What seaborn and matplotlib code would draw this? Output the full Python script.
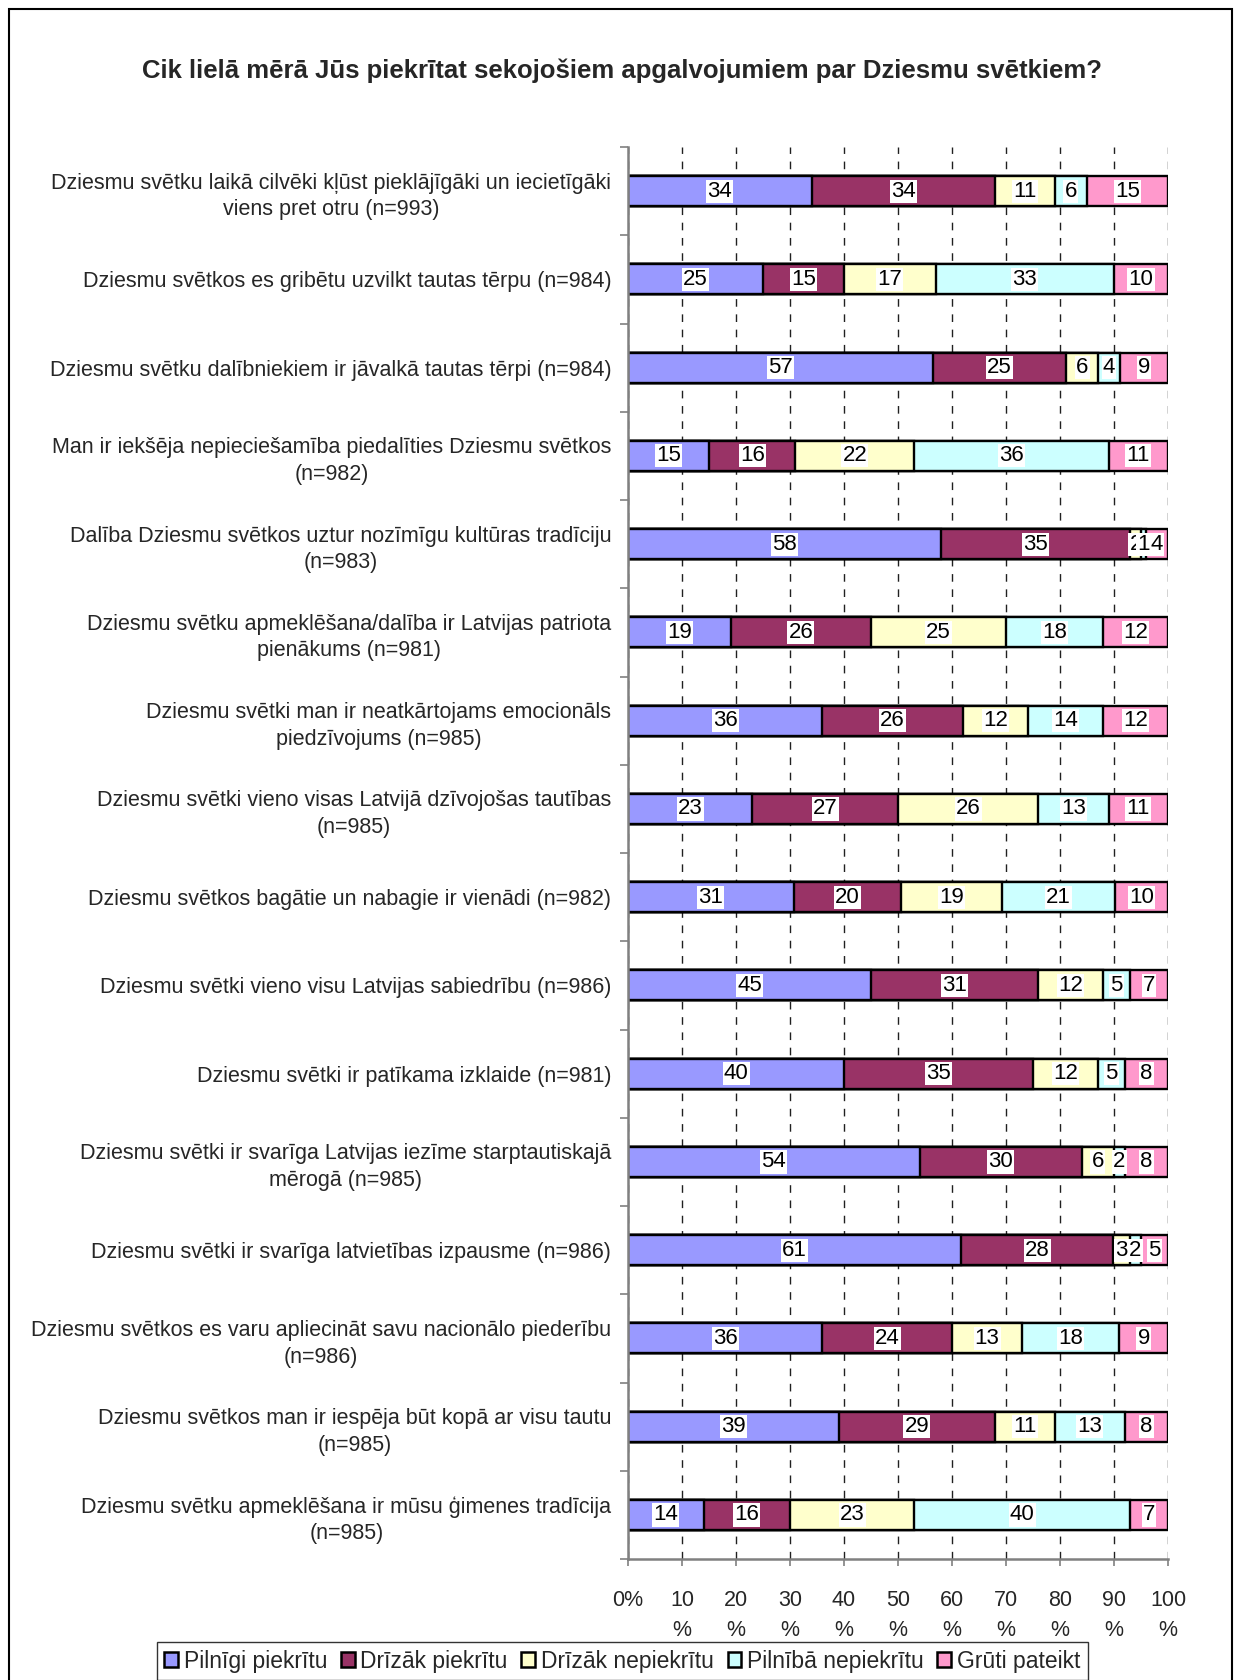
import matplotlib
matplotlib.use("Agg")
import matplotlib.font_manager as fm
import matplotlib.pyplot as plt
import numpy as np
import pandas as pd
import seaborn as sns
from matplotlib.patches import Patch, Rectangle

sns.set_theme(style="white")


def has_font(name):
    try:
        fm.findfont(fm.FontProperties(family=name), fallback_to_default=False)
        return True
    except ValueError:
        return False


NARROW = has_font("Liberation Sans Narrow")
if NARROW:
    plt.rcParams["font.family"] = ["Liberation Sans Narrow", "DejaVu Sans"]
    FS = 19
    FS_VAL = 20
    FS_LEG = 20.5
    FS_TITLE = 23
else:
    plt.rcParams["font.family"] = ["Liberation Sans", "DejaVu Sans"]
    FS = 15.5
    FS_VAL = 16
    FS_LEG = 16.5
    FS_TITLE = 18.5

# ---------------------------------------------------------------------------
# Data
# ---------------------------------------------------------------------------
TITLE = "Cik lielā mērā Jūs piekrītat sekojošiem apgalvojumiem par Dziesmu svētkiem?"

statements = [
    "Dziesmu svētku laikā cilvēki kļūst pieklājīgāki un iecietīgāki\nviens pret otru (n=993)",
    "Dziesmu svētkos es gribētu uzvilkt tautas tērpu (n=984)",
    "Dziesmu svētku dalībniekiem ir jāvalkā tautas tērpi (n=984)",
    "Man ir iekšēja nepieciešamība piedalīties Dziesmu svētkos\n(n=982)",
    "Dalība Dziesmu svētkos uztur nozīmīgu kultūras tradīciju\n(n=983)",
    "Dziesmu svētku apmeklēšana/dalība ir Latvijas patriota\npienākums (n=981)",
    "Dziesmu svētki man ir neatkārtojams emocionāls\npiedzīvojums (n=985)",
    "Dziesmu svētki vieno visas Latvijā dzīvojošas tautības\n(n=985)",
    "Dziesmu svētkos bagātie un nabagie ir vienādi (n=982)",
    "Dziesmu svētki vieno visu Latvijas sabiedrību (n=986)",
    "Dziesmu svētki ir patīkama izklaide (n=981)",
    "Dziesmu svētki ir svarīga Latvijas iezīme starptautiskajā\nmērogā (n=985)",
    "Dziesmu svētki ir svarīga latvietības izpausme (n=986)",
    "Dziesmu svētkos es varu apliecināt savu nacionālo piederību\n(n=986)",
    "Dziesmu svētkos man ir iespēja būt kopā ar visu tautu\n(n=985)",
    "Dziesmu svētku apmeklēšana ir mūsu ģimenes tradīcija\n(n=985)",
]

answers = ["Pilnīgi piekrītu", "Drīzāk piekrītu", "Drīzāk nepiekrītu",
           "Pilnībā nepiekrītu", "Grūti pateikt"]

pilnigi_piekritu = [34, 25, 57, 15, 58, 19, 36, 23, 31, 45, 40, 54, 61, 36, 39, 14]
drizak_piekritu = [34, 15, 25, 16, 35, 26, 26, 27, 20, 31, 35, 30, 28, 24, 29, 16]
drizak_nepiekritu = [11, 17, 6, 22, 2, 25, 12, 26, 19, 12, 12, 6, 3, 13, 11, 23]
pilniba_nepiekritu = [6, 33, 4, 36, 1, 18, 14, 13, 21, 5, 5, 2, 2, 18, 13, 40]
gruti_pateikt = [15, 10, 9, 11, 4, 12, 12, 11, 10, 7, 8, 8, 5, 9, 8, 7]

colors = ["#9999FF", "#993366", "#FFFFCC", "#CCFFFF", "#FF99CC"]

x_ticks = [0, 10, 20, 30, 40, 50, 60, 70, 80, 90, 100]
x_ticklabels = ["0%"] + [f"{t}\n%" for t in x_ticks[1:]]

# ---------------------------------------------------------------------------
# Reshape: 100% stacked (normalised per statement)
# ---------------------------------------------------------------------------
df = pd.DataFrame(
    np.array([pilnigi_piekritu, drizak_piekritu, drizak_nepiekritu,
              pilniba_nepiekritu, gruti_pateikt]).T,
    columns=answers,
)
df["statement"] = statements
vals = df[answers]
share = vals.div(vals.sum(axis=1), axis=0) * 100
cum = share.cumsum(axis=1)
left = cum - share

# ---------------------------------------------------------------------------
# Figure
# ---------------------------------------------------------------------------
fig = plt.figure(figsize=(12.37, 16.8), dpi=100)
ax = fig.add_axes([0.5077, 0.0720, 0.4365, 0.8405])

BAR_H = 0.34
for ans, col in reversed(list(zip(answers, colors))):
    sns.barplot(
        x=cum[ans], y=df["statement"], orient="h", color=col, width=BAR_H,
        edgecolor="black", linewidth=1.7, saturation=1, errorbar=None, ax=ax,
        zorder=3,
    )

# value labels with white background
for j, ans in enumerate(answers):
    for i in range(len(df)):
        centre = left[ans].iloc[i] + share[ans].iloc[i] / 2
        ax.text(centre, i, str(vals[ans].iloc[i]), ha="center", va="center",
                fontsize=FS_VAL, color="black", zorder=5,
                bbox=dict(boxstyle="square,pad=0.05", fc="white", ec="none"))

ax.set_xlim(0, 100)
ax.set_ylim(len(df) - 0.5, -0.5)
ax.set_xlabel("")
ax.set_ylabel("")

ax.set_xticks(x_ticks)
ax.set_xticklabels(x_ticklabels, fontsize=FS, linespacing=1.6)
ax.tick_params(axis="x", direction="out", length=5, width=1.2, color="#808080",
               pad=17, bottom=True)

ax.set_yticks(range(len(df)))
ax.set_yticklabels(statements, fontsize=FS, linespacing=1.35)
for t in ax.get_yticklabels():
    t.set_multialignment("center")
ax.tick_params(axis="y", which="major", length=0, pad=12)
ax.set_yticks(np.arange(-0.5, len(df), 1.0), minor=True)
ax.tick_params(axis="y", which="minor", direction="out", length=5.5, width=1.2,
               color="#808080", left=True)

ax.grid(axis="x", color="#202020", linestyle=(0, (5.5, 5.5)), linewidth=1.0)
ax.grid(axis="y", visible=False)
ax.set_axisbelow(True)

for side in ["top", "right"]:
    ax.spines[side].set_visible(False)
for side in ["left", "bottom"]:
    ax.spines[side].set_color("#808080")
    ax.spines[side].set_linewidth(1.8)
    ax.spines[side].set_zorder(4)

fig.text(0.503, 0.958, TITLE, ha="center", va="center",
         fontsize=FS_TITLE, fontweight="bold")

handles = [Patch(facecolor=c, edgecolor="black", linewidth=1.8) for c in colors]
leg = fig.legend(
    handles, answers, loc="lower center", bbox_to_anchor=(0.503, 0.0),
    ncol=5, fontsize=FS_LEG, frameon=True, fancybox=False, edgecolor="black",
    handlelength=0.6, handleheight=0.6, handletextpad=0.25, columnspacing=0.6,
    borderpad=0.32, borderaxespad=0.0,
)
leg.get_frame().set_linewidth(1.0)

fig.add_artist(Rectangle((9 / 1237, -0.05), 1223 / 1237, 1.05 - 9 / 1680,
                         transform=fig.transFigure, fill=False,
                         edgecolor="black", linewidth=1.5))

fig.savefig("out.png", dpi=100)
